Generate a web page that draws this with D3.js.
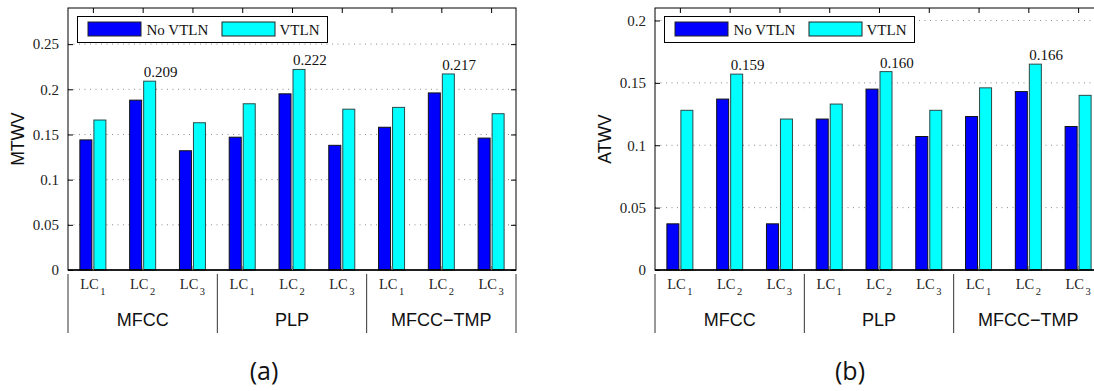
<!DOCTYPE html>
<html>
<head>
<meta charset="utf-8">
<script src="https://cdn.jsdelivr.net/npm/d3@7"></script>
<style>
  body { margin: 0; background: #fff; }
  svg { display: block; }
</style>
</head>
<body>
<svg id="fig" width="1094" height="391"></svg>
<script>
const W = 1094;
const H = 391;

// data
const groups = ["MFCC", "PLP", "MFCC−TMP"];
const conds = ["1", "2", "3"]; // LC subscripts
const series = ["No VTLN", "VTLN"];
const colors = ["#0000ff", "#00ffff"];

const mtwvNo = [0.144, 0.188, 0.132, 0.147, 0.195, 0.138, 0.158, 0.196, 0.146];
const mtwvV  = [0.166, 0.209, 0.163, 0.184, 0.222, 0.178, 0.180, 0.217, 0.173];
const atwvNo = [0.037, 0.137, 0.037, 0.121, 0.145, 0.107, 0.123, 0.143, 0.115];
const atwvV  = [0.128, 0.157, 0.121, 0.133, 0.159, 0.128, 0.146, 0.165, 0.140];

const mtwvTicks = [0, 0.05, 0.1, 0.15, 0.2, 0.25];
const atwvTicks = [0, 0.05, 0.1, 0.15, 0.2];

const labelIdx = [1, 4, 7];
const mtwvLabels = ["0.209", "0.222", "0.217"];
const atwvLabels = ["0.159", "0.160", "0.166"];

const SERIF = "'Liberation Serif', 'Times New Roman', serif";
const SANS = "'Liberation Sans', Arial, sans-serif";

const svg = d3.select("#fig");

function panel(opts) {
  const left = opts.left, top = 8, bottom = 270, width = 448;
  const right = left + width;
  const g = svg.append("g");

  const x0 = d3.scaleBand().domain(d3.range(9)).range([left, right]);
  const x1 = d3.scaleBand().domain(series).range([-13, 13]).paddingInner(2 / 14);
  const y = d3.scaleLinear().domain([0, opts.ymax]).range([bottom, top]);
  const cx = i => x0(i) + x0.bandwidth() / 2;

  // dotted grid
  g.append("g").selectAll("line").data(opts.ticks.filter(t => t > 0)).join("line")
    .attr("x1", left).attr("x2", right)
    .attr("y1", d => y(d)).attr("y2", d => y(d))
    .attr("stroke", "#8a8a8a").attr("stroke-width", 1)
    .attr("stroke-dasharray", "1,4.5");

  // bars
  const rows = d3.range(9).map(i => ({ i, vals: [opts.no[i], opts.v[i]] }));
  g.append("g").selectAll("g").data(rows).join("g")
    .attr("transform", d => `translate(${cx(d.i)},0)`)
    .selectAll("rect").data(d => d.vals.map((v, k) => ({ v, k }))).join("rect")
    .attr("x", d => x1(series[d.k]))
    .attr("width", x1.bandwidth())
    .attr("y", d => y(d.v))
    .attr("height", d => y(0) - y(d.v))
    .attr("fill", d => colors[d.k])
    .attr("stroke", d => d.k === 0 ? "#111" : "#2b4a4a")
    .attr("stroke-width", 1);

  // value labels on VTLN bars
  g.append("g").selectAll("text").data(labelIdx).join("text")
    .attr("x", (d, j) => cx(d) + x1(series[1]))
    .attr("y", d => y(opts.v[d]) - 4)
    .attr("font-family", SERIF).attr("font-size", 15).attr("fill", "#111")
    .text((d, j) => opts.labels[j]);

  // box
  g.append("rect").attr("x", left).attr("y", top)
    .attr("width", width).attr("height", bottom - top)
    .attr("fill", "none").attr("stroke", "#000").attr("stroke-width", 1);
  g.append("line").attr("x1", left).attr("x2", right)
    .attr("y1", bottom).attr("y2", bottom)
    .attr("stroke", "#000").attr("stroke-width", 1.6);

  // y axes (ticks inward)
  const yl = g.append("g").attr("transform", `translate(${left},0)`)
    .call(d3.axisLeft(y).tickValues(opts.ticks).tickSize(-5).tickPadding(9).tickFormat(d => String(+d.toFixed(2))));
  yl.select(".domain").remove();
  yl.selectAll("text").attr("font-family", SERIF).attr("font-size", 15).attr("fill", "#222");
  yl.selectAll("line").attr("stroke", "#000");

  const yr = g.append("g").attr("transform", `translate(${right},0)`)
    .call(d3.axisRight(y).tickValues(opts.ticks).tickSize(-5).tickFormat(""));
  yr.select(".domain").remove();

  // x ticks top & bottom at group centers
  const centers = d3.scalePoint().domain(d3.range(9)).range([cx(0), cx(8)]);
  const xt = g.append("g").attr("transform", `translate(0,${top})`)
    .call(d3.axisTop(centers).tickSize(-5).tickFormat(""));
  xt.select(".domain").remove();
  const xb = g.append("g").attr("transform", `translate(0,${bottom})`)
    .call(d3.axisBottom(centers).tickSize(-4).tickFormat(""));
  xb.select(".domain").remove();
  xb.selectAll("line").attr("stroke", "#777");

  // y title
  g.append("text")
    .attr("transform", `translate(${left - 44},${(top + bottom) / 2}) rotate(-90)`)
    .attr("text-anchor", "middle")
    .attr("font-family", SANS).attr("font-size", 17.5).attr("fill", "#111")
    .text(opts.title);

  // LC labels
  const lc = g.append("g").selectAll("text").data(d3.range(9)).join("text")
    .attr("x", d => cx(d)).attr("y", 289)
    .attr("text-anchor", "middle")
    .attr("font-family", SERIF).attr("font-size", 14.5).attr("fill", "#222");
  lc.append("tspan").text("LC");
  lc.append("tspan").attr("dx", 1.5).attr("dy", 6).attr("font-size", 10.5).text(d => conds[d % 3]);

  // group labels and separators
  const gx = d3.scaleBand().domain(groups).range([left, right]);
  g.append("g").selectAll("line").data(d3.range(4)).join("line")
    .attr("x1", d => left + d * gx.bandwidth()).attr("x2", d => left + d * gx.bandwidth())
    .attr("y1", 274).attr("y2", 333)
    .attr("stroke", "#333").attr("stroke-width", 1);
  g.append("g").selectAll("text").data(groups).join("text")
    .attr("x", d => gx(d) + gx.bandwidth() / 2).attr("y", 326)
    .attr("text-anchor", "middle")
    .attr("font-family", SANS).attr("font-size", 18).attr("fill", "#111")
    .text(d => d);

  // legend
  const lg = g.append("g").attr("transform", `translate(${left + 9.5},16.5)`);
  lg.append("rect").attr("width", 250).attr("height", 26)
    .attr("fill", "#fff").attr("stroke", "#000").attr("stroke-width", 1);
  const items = [
    { name: series[0], sx: 10.5, tx: 69 },
    { name: series[1], sx: 144.5, tx: 202 }
  ];
  items.forEach((it, k) => {
    lg.append("rect").attr("x", it.sx).attr("y", 5.5).attr("width", 53).attr("height", 14)
      .attr("fill", colors[k]).attr("stroke", "#222").attr("stroke-width", 1);
    lg.append("text").attr("x", it.tx).attr("y", 18.5)
      .attr("font-family", SERIF).attr("font-size", 15).attr("fill", "#111")
      .text(it.name);
  });

  // panel caption
  svg.append("text").attr("x", opts.capX).attr("y", 380)
    .attr("text-anchor", "middle")
    .attr("font-family", "'Open Sans', 'Noto Sans', sans-serif").attr("font-size", 25).attr("fill", "#111")
    .text(opts.caption);
}

panel({ left: 68, ymax: 0.29, ticks: mtwvTicks, no: mtwvNo, v: mtwvV, labels: mtwvLabels, title: "MTWV", caption: "(a)", capX: 264 });
panel({ left: 655, ymax: 0.21, ticks: atwvTicks, no: atwvNo, v: atwvV, labels: atwvLabels, title: "ATWV", caption: "(b)", capX: 850 });
</script>
</body>
</html>
